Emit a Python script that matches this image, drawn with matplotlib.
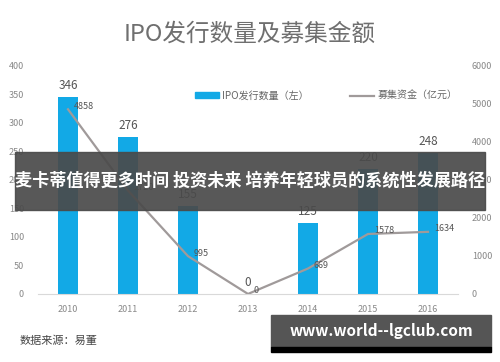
import matplotlib
matplotlib.use('Agg')
import matplotlib.pyplot as plt
from matplotlib.patches import Rectangle
from matplotlib.lines import Line2D

plt.rcParams['font.family'] = ['Noto Sans CJK SC', 'DejaVu Sans']

# data
years = ['2010', '2011', '2012', '2013', '2014', '2015', '2016']
ipo_count = [346, 276, 155, 0, 125, 220, 248]
funds = [4858, 2720, 995, 0, 669, 1578, 1634]

bar_color = '#12A9E6'
line_color = '#A09A9A'
tick_color = '#888888'

fig = plt.figure(figsize=(5, 3.62), dpi=100)
ax = fig.add_axes([0.076, 0.188, 0.84, 0.630])
ax2 = ax.twinx()

x = list(range(len(years)))
ax.bar(x, ipo_count, width=0.32, color=bar_color, zorder=2)
ax2.plot(x, funds, color=line_color, lw=1.6, zorder=3)

ax.set_xlim(-0.5, 6.5)
ax.set_ylim(0, 400)
ax2.set_ylim(0, 6000)
ax.set_yticks(range(0, 401, 50))
ax2.set_yticks(range(0, 6001, 1000))
ax.set_xticks(x)
ax.set_xticklabels(years)

for a in (ax, ax2):
    for s in a.spines.values():
        s.set_visible(False)
    a.tick_params(length=0, labelsize=6.5, colors=tick_color)
ax.spines['bottom'].set_visible(True)
ax.spines['bottom'].set_color('#d9d9d9')
ax.tick_params(axis='y', pad=10)
ax.tick_params(axis='x', pad=8)
ax2.tick_params(axis='y', pad=10)

# bar labels
for xi, v in zip(x, ipo_count):
    ax.text(xi, v + 8, str(v), ha='center', va='bottom', fontsize=8.5, color='#555555')
# line labels
for xi, v in zip(x, funds):
    ax2.text(xi + 0.1, v + 80, str(v), ha='left', va='center', fontsize=6.5, color='#555555')

# legend
handles = [Rectangle((0, 0), 1, 1, color=bar_color),
           Line2D([0], [0], color=line_color, lw=1.6)]
ax.legend(handles, ['IPO发行数量（左）', '募集资金（亿元）'], loc='upper right',
          bbox_to_anchor=(1.02, 0.93), ncol=2, frameon=False, fontsize=7.2,
          handlelength=2.4, handleheight=0.5, handletextpad=0.3,
          columnspacing=4.2, labelcolor='#666666')

fig.text(0.5, 0.905, 'IPO发行数量及募集金额', ha='center', va='center',
         fontsize=17, color='#6f6f6f')
fig.text(0.04, 0.06, '数据来源：易董', ha='left', va='center', fontsize=8, color='#444444')

# overlay banner
fig.patches.append(Rectangle((0.03, 0.42), 0.94, 0.16, transform=fig.transFigure,
                             color='#4a4a4a', alpha=0.92, zorder=5))
fig.text(0.5, 0.5, '麦卡蒂值得更多时间 投资未来 培养年轻球员的系统性发展路径',
         ha='center', va='center', fontsize=12.3, color='white', fontweight='bold', zorder=6)

# watermark box
fig.patches.append(Rectangle((0.542, 0.041), 0.44, 0.088, transform=fig.transFigure,
                             color='#555555', zorder=5))
fig.patches.append(Rectangle((0.542, 0.027), 0.44, 0.015, transform=fig.transFigure,
                             color='#000000', zorder=5))
fig.text(0.762, 0.086, 'www.world--lgclub.com', ha='center', va='center',
         fontsize=11, color='white', fontweight='bold', zorder=6)

fig.savefig('out.png', dpi=100)
